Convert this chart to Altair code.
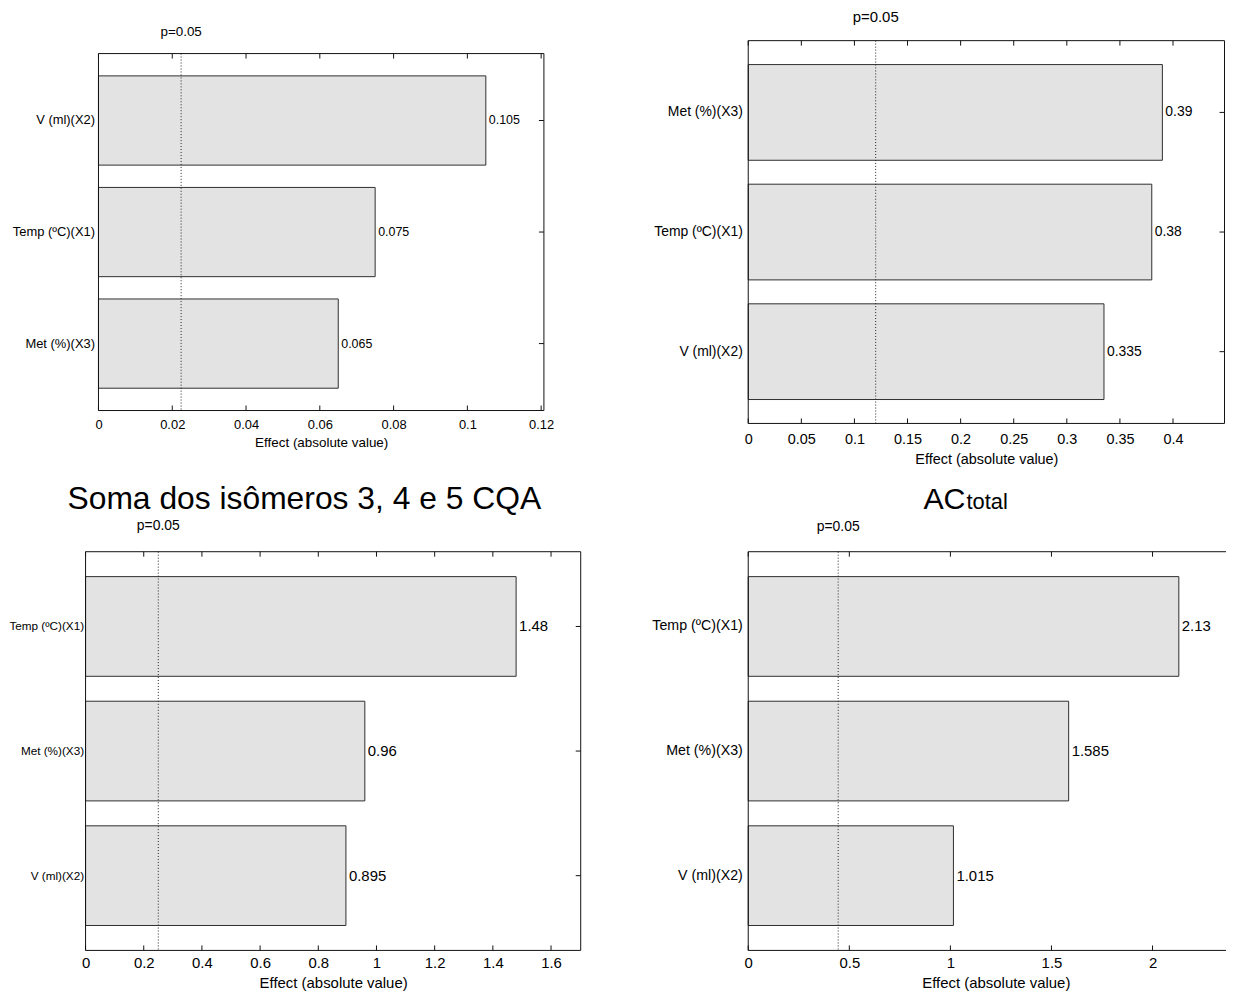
import altair as alt
import pandas as pd

FONT = "Liberation Sans"
X_TITLE = "Effect (absolute value)"
P_LABEL = "p=0.05"

# ---- top-left panel (its title is cut off in the source figure) ----
tl_factors = ["V (ml)(X2)", "Temp (ºC)(X1)", "Met (%)(X3)"]
tl_effects = [0.105, 0.075, 0.065]
tl_p = 0.0224
tl_ticks = [0, 0.02, 0.04, 0.06, 0.08, 0.1, 0.12]
tl_xmax = 0.12075

# ---- top-right panel ----
tr_factors = ["Met (%)(X3)", "Temp (ºC)(X1)", "V (ml)(X2)"]
tr_effects = [0.39, 0.38, 0.335]
tr_p = 0.12
tr_ticks = [0, 0.05, 0.1, 0.15, 0.2, 0.25, 0.3, 0.35, 0.4]
tr_xmax = 0.4485

# ---- bottom-left panel ----
bl_title = "Soma dos isômeros 3, 4 e 5 CQA"
bl_factors = ["Temp (ºC)(X1)", "Met (%)(X3)", "V (ml)(X2)"]
bl_effects = [1.48, 0.96, 0.895]
bl_p = 0.25
bl_ticks = [0, 0.2, 0.4, 0.6, 0.8, 1.0, 1.2, 1.4, 1.6]
bl_xmax = 1.702

# ---- bottom-right panel ----
br_title_main = "AC"
br_title_sub = "total"
br_factors = ["Temp (ºC)(X1)", "Met (%)(X3)", "V (ml)(X2)"]
br_effects = [2.13, 1.585, 1.015]
br_p = 0.445
br_ticks = [0, 0.5, 1.0, 1.5, 2.0]
br_xmax = 2.4495

INK = "#111111"


def panel(factors, effects, pval, ticks, xmax, plot_w, plot_h, st, shift=0, titles=()):
    total_w = shift + plot_w
    bars_df = pd.DataFrame({"factor": factors, "effect": effects,
                            "label": [str(v) for v in effects]})
    frame_df = pd.DataFrame({"lo": [0.0], "hi": [xmax]})
    tick_df = pd.DataFrame({"t": ticks})
    p_df = pd.DataFrame({"p": [pval], "txt": [P_LABEL]})

    xscale = alt.Scale(domain=[0, xmax], nice=False, zero=False, range=[shift, total_w])
    xaxis = alt.Axis(values=ticks, format="~g", title=X_TITLE, grid=False, ticks=False,
                     tickSize=0, domain=False, labelFlush=False, labelOverlap=False,
                     labelFontSize=st["xlab"], labelPadding=st["xpad"], labelColor="black",
                     titleFontSize=st["xtitle"], titleFontWeight="normal",
                     titlePadding=st["tpad"], titleColor="black")
    yscale = alt.Scale(domain=factors, paddingInner=0.2, paddingOuter=0.2)
    yaxis = alt.Axis(title=None, ticks=False, tickSize=0, domain=False, grid=False,
                     labelFontSize=st["ylab"], labelPadding=st["ypad"], labelColor="black",
                     labelLimit=0, offset=-shift)

    def X(field):
        return alt.X(field, scale=xscale, axis=xaxis)

    Y = alt.Y("factor:N", scale=yscale, axis=yaxis)

    bars = alt.Chart(bars_df).mark_bar(fill="#e3e3e3", stroke="#2e2e2e", strokeWidth=1).encode(
        x=X("effect:Q"), y=Y)
    pline = alt.Chart(p_df).mark_rule(color="#222222", strokeDash=[1, 2], strokeWidth=1).encode(
        x=X("p:Q"), y=alt.value(0), y2=alt.value(plot_h))
    vals = alt.Chart(bars_df).mark_text(align="left", baseline="middle", dx=3,
                                        fontSize=st["val"], color="black").encode(
        x=X("effect:Q"), y=Y, text="label:N")
    ptext = alt.Chart(p_df).mark_text(align="center", baseline="middle",
                                      fontSize=st["p"], color="black").encode(
        x=X("p:Q"), y=alt.value(st["py"]), text="txt:N")
    tick_b = alt.Chart(tick_df).mark_rule(color=INK).encode(
        x=X("t:Q"), y=alt.value(plot_h), y2=alt.value(plot_h - 5))
    tick_t = alt.Chart(tick_df).mark_rule(color=INK).encode(
        x=X("t:Q"), y=alt.value(0), y2=alt.value(5))
    tick_r = alt.Chart(bars_df).mark_rule(color=INK).encode(
        y=Y, x=alt.value(total_w - 5), x2=alt.value(total_w))
    frame = alt.Chart(frame_df).mark_rect(fillOpacity=0, stroke=INK, strokeWidth=1).encode(
        x=X("lo:Q"), x2="hi:Q", y=alt.value(0), y2=alt.value(plot_h))

    layers = [bars, pline, vals, ptext, tick_b, tick_t, tick_r, frame]
    for (txt, fs, align, tx, ty) in titles:
        layers.append(
            alt.Chart(pd.DataFrame({"t": [txt]})).mark_text(
                fontSize=fs, align=align, baseline="alphabetic", color="black").encode(
                text="t:N", x=alt.value(tx), y=alt.value(ty)))
    return alt.layer(*layers).properties(width=total_w, height=plot_h)


st_tl = dict(xlab=13, xpad=8, xtitle=13.5, tpad=4, ylab=13, ypad=4, val=12.5, p=13.5, py=-22)
st_tr = dict(xlab=14.5, xpad=9, xtitle=14.5, tpad=7, ylab=14, ypad=6, val=14, p=15, py=-24)
st_bl = dict(xlab=15, xpad=5, xtitle=15, tpad=5, ylab=11.8, ypad=2, val=15, p=14, py=-26)
st_br = dict(xlab=15, xpad=5, xtitle=15, tpad=5, ylab=14.3, ypad=6, val=15, p=14, py=-25)

tl = panel(tl_factors, tl_effects, tl_p, tl_ticks, tl_xmax, 448, 359, st_tl, shift=13)
tr = panel(tr_factors, tr_effects, tr_p, tr_ticks, tr_xmax, 479, 385, st_tr)
bl = panel(bl_factors, bl_effects, bl_p, bl_ticks, bl_xmax, 498, 401, st_bl,
           titles=[(bl_title, 32, "center", 220, -43)])
br = panel(br_factors, br_effects, br_p, br_ticks, br_xmax, 498, 401, st_br,
           titles=[(br_title_main, 30.5, "right", 218.5, -43),
                   (br_title_sub, 22, "left", 219.5, -43)])

chart = alt.concat(
    tl, tr, bl, br, columns=2,
    spacing={"row": 129, "column": 168.5},
    bounds="flush", align="each",
    center={"row": True, "column": False},
).properties(
    padding={"left": 0, "top": -1, "right": -18, "bottom": 0},
    background="white",
).configure(font=FONT).configure_view(stroke=None)

chart.save("out.html", embed_options={"renderer": "svg", "actions": False})
